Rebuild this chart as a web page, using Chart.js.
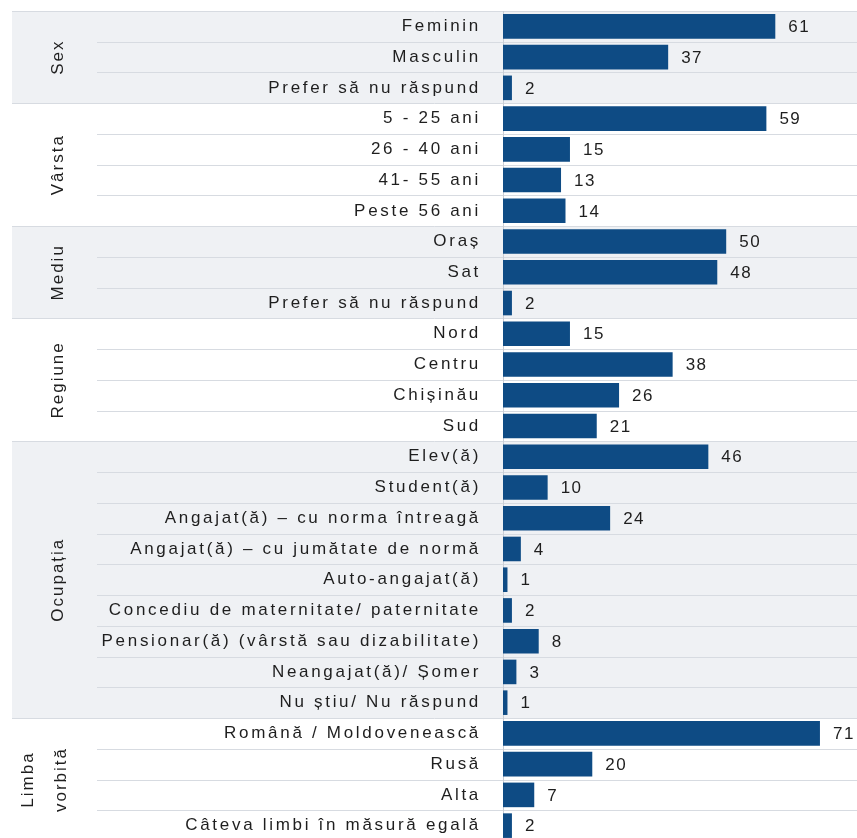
<!DOCTYPE html>
<html>
<head>
<meta charset="utf-8">
<script src="https://cdn.jsdelivr.net/npm/chart.js@4/dist/chart.umd.min.js"></script>
<style>
    html, body { margin: 0; padding: 0; background: #fff; overflow: hidden; }
    #wrap { position: relative; width: 857px; height: 841px; }
</style>
</head>
<body>
<div id="wrap"><canvas id="chart"></canvas></div>
<script>
    const categories = [
        'Feminin', 'Masculin', 'Prefer să nu răspund',
        '5 - 25 ani', '26 - 40 ani', '41- 55 ani', 'Peste 56 ani',
        'Oraș', 'Sat', 'Prefer să nu răspund',
        'Nord', 'Centru', 'Chișinău', 'Sud',
        'Elev(ă)', 'Student(ă)', 'Angajat(ă) – cu norma întreagă',
        'Angajat(ă) – cu jumătate de normă', 'Auto-angajat(ă)',
        'Concediu de maternitate/ paternitate', 'Pensionar(ă) (vârstă sau dizabilitate)',
        'Neangajat(ă)/ Șomer', 'Nu știu/ Nu răspund',
        'Română / Moldovenească', 'Rusă', 'Alta', 'Câteva limbi în măsură egală'
    ];
    const values = [
        61, 37, 2,
        59, 15, 13, 14,
        50, 48, 2,
        15, 38, 26, 21,
        46, 10, 24, 4, 1, 2, 8, 3, 1,
        71, 20, 7, 2
    ];
    const groupNames = ['Sex', 'Vârsta', 'Mediu', 'Regiune', 'Ocupația', ['Limba', 'vorbită']];
    const groupSizes = [3, 4, 3, 4, 9, 4];
    const groupShaded = [true, false, true, false, true, false];

    const barColor = '#0e4b84';
    const bandColor = '#eff1f4';
    const lineColor = '#d7dbe1';
    const textColor = '#1e1e1e';
    const fontFamily = '"Liberation Sans", Arial, sans-serif';

    // backgrounds, separators and group titles
    const groupPlugin = {
        id: 'groups',
        beforeDraw(chart) {
            const ctx = chart.ctx;
            const yScale = chart.scales.y;
            const right = chart.width;
            const rowH = yScale.getPixelForValue(1) - yScale.getPixelForValue(0);
            const rowTop = (i) => yScale.getPixelForValue(i) - rowH / 2;

            ctx.save();
            let start = 0;
            groupSizes.forEach((size, g) => {
                if (groupShaded[g]) {
                    ctx.fillStyle = bandColor;
                    ctx.fillRect(12, rowTop(start), right - 12, rowH * size);
                }
                start += size;
            });

            ctx.strokeStyle = lineColor;
            ctx.lineWidth = 1;
            const groupStarts = new Set();
            let acc = 0;
            groupSizes.forEach((size) => { groupStarts.add(acc); acc += size; });
            for (let i = 0; i < categories.length; i++) {
                const y = Math.round(rowTop(i)) + 0.5;
                ctx.beginPath();
                ctx.moveTo(groupStarts.has(i) ? 12 : 97, y);
                ctx.lineTo(right, y);
                ctx.stroke();
            }

            ctx.fillStyle = textColor;
            ctx.font = '17px ' + fontFamily;
            ctx.letterSpacing = '2px';
            ctx.textAlign = 'center';
            ctx.textBaseline = 'middle';
            start = 0;
            groupSizes.forEach((size, g) => {
                const cy = rowTop(start) + rowH * size / 2;
                const name = groupNames[g];
                const lines = Array.isArray(name) ? name : [name];
                const xs = lines.length > 1 ? [28, 61] : [58];
                lines.forEach((txt, k) => {
                    ctx.save();
                    ctx.translate(xs[k], cy);
                    ctx.rotate(-Math.PI / 2);
                    ctx.fillText(txt, 0, 0);
                    ctx.restore();
                });
                start += size;
            });
            ctx.restore();
            // spacing for the axis tick labels drawn next
            ctx.letterSpacing = '2.7px';
        },
        beforeDatasetsDraw(chart) {
            chart.ctx.letterSpacing = '0px';
        },
        afterDatasetsDraw(chart) {
            const ctx = chart.ctx;
            const meta = chart.getDatasetMeta(0);
            ctx.save();
            ctx.fillStyle = textColor;
            ctx.font = '17px ' + fontFamily;
            ctx.letterSpacing = '1.5px';
            ctx.textAlign = 'left';
            ctx.textBaseline = 'middle';
            meta.data.forEach((bar, i) => {
                ctx.fillText(String(values[i]), bar.x + 13, bar.y + 1);
            });
            ctx.restore();
            ctx.letterSpacing = '0px';
        }
    };

    new Chart(document.getElementById('chart'), {
        type: 'bar',
        data: {
            labels: categories,
            datasets: [{
                data: values,
                backgroundColor: barColor,
                borderWidth: 0,
                categoryPercentage: 0.8,
                barPercentage: 1.0
            }]
        },
        options: {
            indexAxis: 'y',
            responsive: true,
            maintainAspectRatio: false,
            animation: false,
            layout: { padding: { top: 11, bottom: 0, left: 0, right: 0 } },
            plugins: {
                legend: { display: false },
                tooltip: { enabled: false }
            },
            scales: {
                x: {
                    display: false,
                    min: 0,
                    max: 79.3
                },
                y: {
                    afterFit(scale) {
                        scale.width = 503;
                        scale.paddingTop = 0;
                        scale.paddingBottom = 0;
                    },
                    grid: { display: false, drawTicks: false },
                    border: { display: true, color: '#c9ced6', width: 1 },
                    ticks: {
                        autoSkip: false,
                        padding: 22,
                        color: textColor,
                        font: { family: fontFamily, size: 17 }
                    }
                }
            }
        },
        plugins: [groupPlugin]
    });
</script>
</body>
</html>
